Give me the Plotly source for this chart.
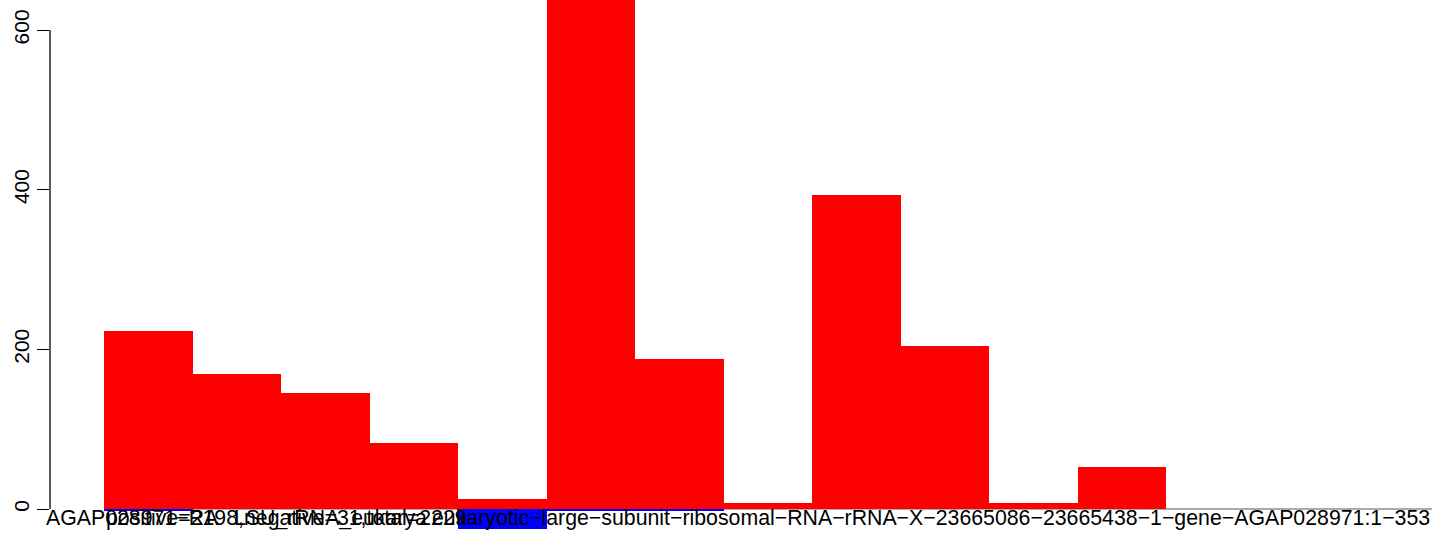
import plotly.graph_objects as go

# Coverage per bin (15 bins)
positive = [223, 169, 145, 83, 12, 714, 188, 7, 393, 204, 7, 53, 0, 0, 0]
negative = [-2, 0, 0, 0, -25, -2, -2, 0, 0, 0, 0, 0, 0, 0, 0]
y_ticks = [0, 200, 400, 600]

gene_label = "AGAP028971−RA"
count_label = "positive=2198,negative=31,total=2229"
family_label = "LSU_rRNA_eukarya"
region_label = ("eukaryotic−large−subunit−ribosomal−RNA−rRNA−X−23665086−23665438"
                "−1−gene−AGAP028971:1−353")

n = len(positive)
xs = [i + 0.5 for i in range(n)]

fig = go.Figure()
fig.add_trace(go.Bar(x=xs, y=positive, width=1, marker=dict(color="#ff0000", line=dict(width=0)),
                     showlegend=False))
fig.add_trace(go.Bar(x=xs, y=negative, width=1, marker=dict(color="#0000ff", line=dict(width=0)),
                     showlegend=False))

# baseline
fig.add_shape(type="line", xref="x", yref="y", x0=0, x1=n, y0=0, y1=0,
              line=dict(color="#ababab", width=2), layer="below")
# y axis line (R style, spanning tick range only)
fig.add_shape(type="line", xref="paper", yref="y", x0=0, x1=0, y0=y_ticks[0], y1=y_ticks[-1],
              line=dict(color="black", width=1.3))

FAM = "Liberation Sans, Arial, sans-serif"
font = dict(family=FAM, size=21.3, color="black")
ylab = 0.04
fig.add_annotation(text=gene_label, xref="paper", yref="paper", x=-0.0045, y=ylab,
                   xanchor="left", yanchor="middle", showarrow=False, font=font)
fig.add_annotation(text=count_label, xref="x", yref="paper", x=0, y=ylab,
                   xanchor="left", yanchor="middle", showarrow=False, font=font)
fig.add_annotation(text=family_label, xref="x", yref="paper", x=1.45, y=ylab,
                   xanchor="left", yanchor="middle", showarrow=False, font=font)
fig.add_annotation(text=region_label, xref="x", yref="paper", x=n, y=ylab,
                   xanchor="right", yanchor="middle", showarrow=False, font=font)

fig.update_layout(
    width=1444, height=550,
    margin=dict(l=50, r=12, t=0, b=10, autoexpand=False),
    paper_bgcolor="white", plot_bgcolor="white",
    barmode="overlay", bargap=0,
    xaxis=dict(range=[-0.61, n], showticklabels=False, showgrid=False, zeroline=False,
               showline=False, ticks="", automargin=False),
    yaxis=dict(range=[-38.8, 637.6], tickvals=y_ticks, ticktext=[str(v) for v in y_ticks],
               tickangle=-90, ticks="outside", ticklen=12, tickwidth=1.3, tickcolor="black",
               showgrid=False, zeroline=False, showline=False, automargin=False,
               tickfont=dict(family=FAM, size=21, color="black")),
)

fig.write_html("out.html", post_script="document.body.style.margin='0px';",
               config={"displayModeBar": False})
